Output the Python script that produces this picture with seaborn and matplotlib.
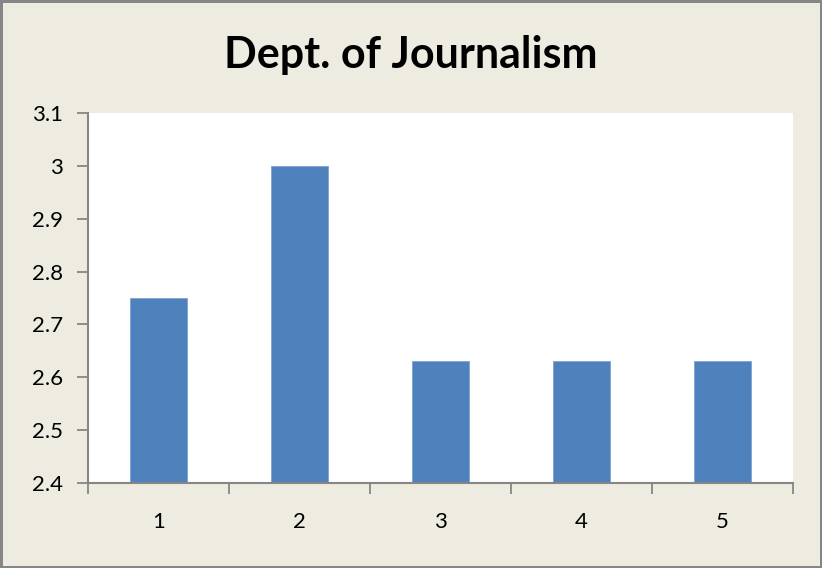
#!/usr/bin/env python3
"""Bar chart: Dept. of Journalism scores per item."""
import pandas as pd
import matplotlib.pyplot as plt
import seaborn as sns

items = ["1", "2", "3", "4", "5"]
scores = [2.75, 3.0, 2.63, 2.63, 2.63]
y_ticks = [2.4, 2.5, 2.6, 2.7, 2.8, 2.9, 3.0, 3.1]
y_labels = ["2.4", "2.5", "2.6", "2.7", "2.8", "2.9", "3", "3.1"]

BG = "#EEECE1"
BAR = "#4F81BD"
AXIS = "#868686"


def main():
    sns.set_style("white")
    plt.rcParams["font.family"] = ["Lato", "DejaVu Sans"]

    df = pd.DataFrame({"item": items, "score": scores})

    fig = plt.figure(figsize=(8.22, 5.68), dpi=100, facecolor=BG,
                     edgecolor=AXIS, linewidth=2.5)
    ax = fig.add_axes([88 / 822, 1 - 483 / 568, 705 / 822, 370 / 568])
    ax.set_facecolor("white")

    sns.barplot(data=df, x="item", y="score", order=items, color=BAR,
                width=0.4, saturation=1, edgecolor="#7FA3D3", linewidth=0.6,
                errorbar=None, ax=ax)

    ax.set_ylim(2.4, 3.1)
    ax.set_xlim(-0.5, 4.5)
    ax.set_yticks(y_ticks, y_labels)
    ax.set_xticks([i - 0.5 for i in range(len(items) + 1)], [""] * (len(items) + 1))
    ax.set_xticks(range(len(items)), items, minor=True)

    ax.tick_params(axis="y", which="major", direction="out", length=8, width=1.3,
                   color=AXIS, labelsize=16, labelcolor="black", pad=10, left=True)
    ax.tick_params(axis="x", which="major", direction="out", length=8, width=1.3,
                   color=AXIS, bottom=True)
    ax.tick_params(axis="x", which="minor", length=0, labelsize=16,
                   labelcolor="black", pad=21)

    for side in ["top", "right"]:
        ax.spines[side].set_visible(False)
    for side in ["left", "bottom"]:
        ax.spines[side].set_color(AXIS)
        ax.spines[side].set_linewidth(1.5)

    ax.set_xlabel("")
    ax.set_ylabel("")
    fig.text(0.5, 1 - 55 / 568, "Dept. of Journalism", ha="center", va="center",
             fontsize=31, fontweight="bold", color="black")

    fig.savefig("out.png", dpi=100, facecolor=BG, edgecolor=AXIS)
    plt.close(fig)


if __name__ == "__main__":
    main()
